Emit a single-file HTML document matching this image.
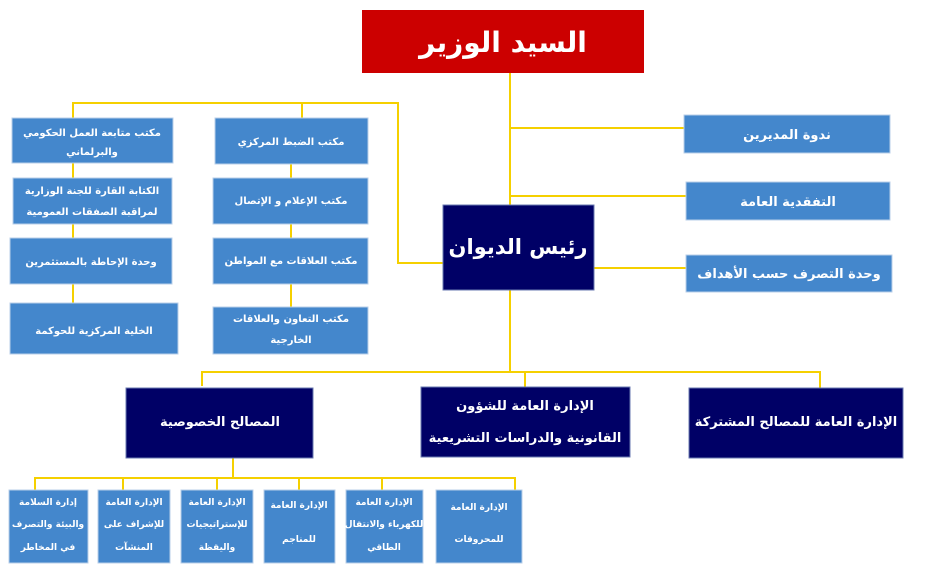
<!DOCTYPE html>
<html><head><meta charset="utf-8"><style>
html,body{margin:0;padding:0;background:#fff;}
svg{display:block}
text{font-family:"DejaVu Sans","Liberation Sans",sans-serif;fill:#fff;font-weight:bold;text-anchor:middle;direction:rtl}
.b{fill:#4487cc;stroke:#b9cfe8;stroke-width:1}
.n{fill:#000066;stroke:#6a7ab0;stroke-width:1}
.l{stroke:#f5d000;stroke-width:2;fill:none}
.s{font-size:10px}
.t{font-size:9px}
.m{font-size:13px}
</style></head><body>
<svg width="942" height="578" viewBox="0 0 942 578">
<path class="l" d="M510 73 V372"/>
<path class="l" d="M510 128 H684 M510 196 H686 M510 268 H686"/>
<path class="l" d="M443 263 H398 V103 H73 V118 M302 103 V118"/>
<path class="l" d="M73 163 V178 M73 224 V238 M73 284 V303 M291 164 V178 M291 224 V238 M291 284 V307"/>
<path class="l" d="M202 386 V372 H820 V388 M525 372 V387"/>
<path class="l" d="M233 458 V477 M35 490 V478 H515 V490 M123 478 V490 M217 478 V490 M299 478 V490 M382 478 V490"/>
<rect x="362" y="10" width="282" height="63" fill="#cc0000"/>
<text x="503" y="52" style="font-size:28px">السيد الوزير</text>
<rect class="b" x="684" y="115" width="206" height="38"/><text class="m" x="787" y="139">ندوة المديرين</text>
<rect class="b" x="686" y="182" width="204" height="38"/><text class="m" x="788" y="206">التفقدية العامة</text>
<rect class="b" x="686" y="255" width="206" height="37"/><text class="m" x="789" y="278">وحدة التصرف حسب الأهداف</text>
<rect class="n" x="443" y="205" width="151" height="85"/>
<text x="518" y="254" style="font-size:21px">رئيس الديوان</text>
<rect class="b" x="12" y="118" width="161" height="45"/><text class="s" x="92" y="136">مكتب متابعة العمل الحكومي</text><text class="s" x="92" y="155">والبرلماني</text>
<rect class="b" x="13" y="178" width="159" height="46"/><text class="s" x="92" y="194">الكتابة القارة للجنة الوزارية</text><text class="s" x="92" y="215">لمراقبة الصفقات العمومية</text>
<rect class="b" x="10" y="238" width="162" height="46"/><text class="s" x="91" y="265">وحدة الإحاطة بالمستثمرين</text>
<rect class="b" x="10" y="303" width="168" height="51"/><text class="s" x="94" y="334">الخلية المركزية للحوكمة</text>
<rect class="b" x="215" y="118" width="153" height="46"/><text class="s" x="291" y="145">مكتب الضبط المركزي</text>
<rect class="b" x="213" y="178" width="155" height="46"/><text class="s" x="291" y="204">مكتب الإعلام و الإتصال</text>
<rect class="b" x="213" y="238" width="155" height="46"/><text class="s" x="291" y="264">مكتب العلاقات مع المواطن</text>
<rect class="b" x="213" y="307" width="155" height="47"/><text class="s" x="291" y="322">مكتب التعاون والعلاقات</text><text class="s" x="291" y="343">الخارجية</text>
<rect class="n" x="126" y="388" width="187" height="70"/><text class="m" x="220" y="426">المصالح الخصوصية</text>
<rect class="n" x="421" y="387" width="209" height="70"/><text class="m" x="525" y="410">الإدارة العامة للشؤون</text><text class="m" x="525" y="442">القانونية والدراسات التشريعية</text>
<rect class="n" x="689" y="388" width="214" height="70"/><text class="m" x="796" y="426">الإدارة العامة للمصالح المشتركة</text>
<rect class="b" x="9" y="490" width="79" height="73"/><text class="t" x="48" y="505">إدارة السلامة</text><text class="t" x="48" y="527">والبيئة والتصرف</text><text class="t" x="48" y="550">في المخاطر</text>
<rect class="b" x="98" y="490" width="72" height="73"/><text class="t" x="134" y="505">الإدارة العامة</text><text class="t" x="134" y="527">للإشراف على</text><text class="t" x="134" y="550">المنشآت</text>
<rect class="b" x="181" y="490" width="72" height="73"/><text class="t" x="217" y="505">الإدارة العامة</text><text class="t" x="217" y="527">للإستراتيجيات</text><text class="t" x="217" y="550">واليقظة</text>
<rect class="b" x="264" y="490" width="71" height="73"/><text class="t" x="299" y="508">الإدارة العامة</text><text class="t" x="299" y="542">للمناجم</text>
<rect class="b" x="346" y="490" width="77" height="73"/><text class="t" x="384" y="505">الإدارة العامة</text><text class="t" x="384" y="527">للكهرباء والانتقال</text><text class="t" x="384" y="550">الطاقي</text>
<rect class="b" x="436" y="490" width="86" height="73"/><text class="t" x="479" y="510">الإدارة العامة</text><text class="t" x="479" y="542">للمحروقات</text>
</svg>
</body></html>
